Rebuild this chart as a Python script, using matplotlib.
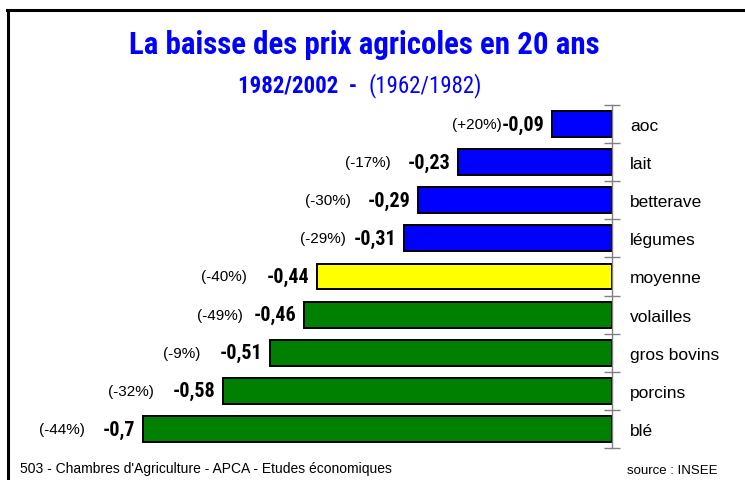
import matplotlib
matplotlib.use("Agg")
import matplotlib.pyplot as plt
from matplotlib.lines import Line2D

categories = ["aoc", "lait", "betterave", "légumes", "moyenne", "volailles",
              "gros bovins", "porcins", "blé"]
values = [-0.09, -0.23, -0.29, -0.31, -0.44, -0.46, -0.51, -0.58, -0.70]
value_labels = ["-0,09", "-0,23", "-0,29", "-0,31", "-0,44", "-0,46", "-0,51", "-0,58", "-0,7"]
pct_labels = ["(+20%)", "(-17%)", "(-30%)", "(-29%)", "(-40%)", "(-49%)", "(-9%)", "(-32%)", "(-44%)"]
colors = ["#0000FF", "#0000FF", "#0000FF", "#0000FF", "#FFFF00",
          "#008000", "#008000", "#008000", "#008000"]
pct_gaps_px = [0, 17, 16, 8, 20, 11, 20, 19, 18]

W, H = 745, 481
fig = plt.figure(figsize=(W / 100, H / 100), dpi=100)
fig.patch.set_facecolor("white")

narrow = ["Roboto Condensed", "Archivo Narrow", "DejaVu Sans"]
sans = ["Liberation Sans", "DejaVu Sans"]

# axes placement (pixels)
x0_px, top_px, bot_px = 612, 106, 449
xmin = -0.87
scale = 670.0
left_px = x0_px + xmin * scale
ax = fig.add_axes([left_px / W, (H - bot_px) / H, (x0_px - left_px) / W, (bot_px - top_px) / H])

n = len(categories)
ypos = list(range(n))
ax.barh(ypos, values, height=0.68, color=colors, edgecolor="black", linewidth=1.4, zorder=2)
ax.set_xlim(xmin, 0)
ax.set_ylim(n - 0.5, -0.5)

for s in ["top", "bottom", "left"]:
    ax.spines[s].set_visible(False)
ax.spines["right"].set_color("#808080")
ax.spines["right"].set_linewidth(1.0)
ax.set_xticks([])
ax.yaxis.tick_right()
ax.set_yticks([i - 0.5 for i in range(n + 1)])
ax.set_yticklabels([])
ax.tick_params(axis="y", which="major", direction="inout", length=11, color="#808080", width=1.0)
ax.set_yticks(ypos, minor=True)
ax.set_yticklabels(categories, minor=True, fontfamily=sans, fontsize=12.5)
ax.tick_params(axis="y", which="minor", length=0, pad=12.8)

for i, (v, vl, pl, gap) in enumerate(zip(values, value_labels, pct_labels, pct_gaps_px)):
    t = ax.annotate(vl, xy=(v, i), xytext=(-5.5, 0), textcoords="offset points",
                    ha="right", va="center", fontsize=14.5, fontweight="bold",
                    fontfamily=narrow, color="black")
    ax.annotate(pl, xy=(0, 0.5), xycoords=t, xytext=(-gap * 0.72, 0), textcoords="offset points",
                ha="right", va="center", fontsize=11, fontfamily=sans, color="black")

# titles
fig.text(364 / W, 1 - 45 / H, "La baisse des prix agricoles en 20 ans", ha="center", va="center",
         fontsize=22.2, fontweight="bold", fontfamily=narrow, color="#0000FF")
fig.text(357 / W, 1 - 86 / H, "1982/2002  -", ha="right", va="center",
         fontsize=16.5, fontweight="bold", fontfamily=narrow, color="#0000FF")
fig.text(368 / W, 1 - 86 / H, "(1962/1982)", ha="left", va="center",
         fontsize=16.5, fontfamily=narrow, color="#0000FF")

# footers
fig.text(20 / W, 1 - 469 / H, "503 - Chambres d'Agriculture - APCA - Etudes économiques", ha="left", va="center",
         fontsize=10, fontfamily=sans, color="black")
fig.text(627 / W, 1 - 471 / H, "source : INSEE", ha="left", va="center",
         fontsize=9.5, fontfamily=sans, color="black")

# frame (top and left borders)
fig.add_artist(Line2D([7 / W, 1.0], [1 - 11 / H, 1 - 11 / H], transform=fig.transFigure,
                      color="black", linewidth=2.2))
fig.add_artist(Line2D([8 / W, 8 / W], [0, 1 - 11 / H], transform=fig.transFigure,
                      color="black", linewidth=2.2))

fig.savefig("out.png", dpi=100, facecolor="white")
